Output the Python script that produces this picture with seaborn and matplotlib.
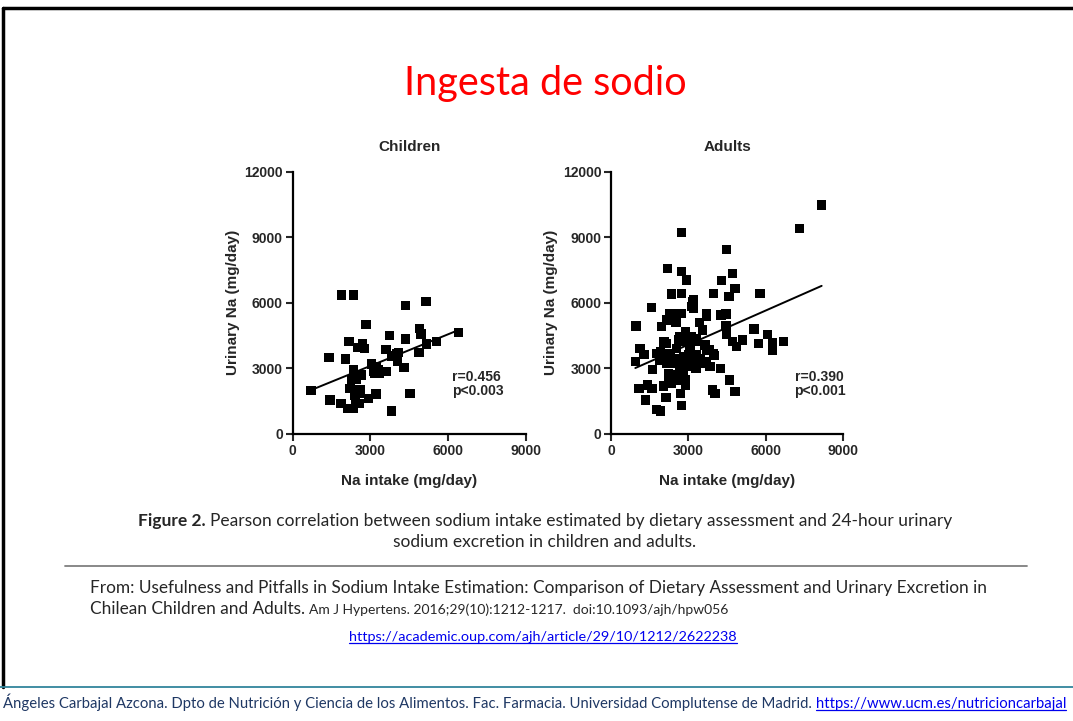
import numpy as np
import pandas as pd
import matplotlib
matplotlib.use("Agg")
import matplotlib.pyplot as plt
from matplotlib.lines import Line2D
import seaborn as sns

# data (mg/day)
children_intake = [710, 1440, 1400, 1864, 2044, 1890, 2340, 2173, 2108, 2340,
                   2211, 2340, 2276, 2469, 2404, 2597, 2571, 2443, 2520, 2700,
                   2777, 2829, 2636, 2919, 3047, 3111, 3214, 3240, 3330, 3626,
                   3600, 3729, 3819, 3819, 4011, 4076, 4036, 4294, 4358, 4358,
                   4526, 4886, 4950, 4873, 5169, 5143, 5554, 6403, 3290, 3174,
                   2596]
children_urinary = [1980, 1555, 3490, 1403, 3430, 6358, 6358, 4224, 1174, 1174,
                    2089, 2928, 2500, 2500, 1784, 1860, 1403, 1403, 3964, 4148,
                    3918, 5016, 2699, 1631, 3202, 2851, 1830, 3080, 2775, 2851,
                    3873, 4498, 3568, 1052, 3690, 3736, 3339, 3034, 5870, 4346,
                    1860, 4834, 4574, 3736, 4117, 6053, 4224, 4635, 2928, 2790,
                    2013]

adults_intake = [8161, 7296, 2737, 4481, 2195, 2737, 2931, 4700, 4287, 2350,
                 2737, 3964, 5772, 4803, 4571, 3164, 3125, 3189, 1575, 2311,
                 2737, 3706, 3706, 4261, 4455, 3422, 2518, 968, 1963, 2156,
                 4455, 5539, 3551, 2892, 2969, 3125, 3318, 4481, 6055, 5100,
                 4700, 5707, 6249, 6676, 6249, 4868, 2156, 2053, 1123, 1278,
                 3641, 3809, 3964, 3990, 942, 1614, 1756, 1911, 2117, 2311,
                 2479, 2640, 2737, 2866, 2995, 2931, 3034, 3164, 3318, 3293,
                 3512, 3680, 3809, 2221, 2350, 2260, 2479, 2802, 2866, 2892,
                 4248, 4597, 1085, 1407, 1588, 2027, 2698, 3938, 4029, 4803,
                 1343, 2131, 1756, 1911, 2737, 3254, 3086, 2634, 2673, 2867,
                 3061, 2545, 2286, 2801, 3320, 2480, 2933, 2158, 2673, 1898,
                 2027, 3127, 3189, 2673, 2286, 3448, 3708, 3576, 3836, 2352,
                 2222]
adults_urinary = [10475, 9408, 9210, 8447, 7578, 7425, 7044, 7349, 7013, 6404,
                  6434, 6434, 6434, 6663, 6282, 6053, 5824, 5748, 5779, 5519,
                  5519, 5519, 5367, 5443, 5489, 5093, 5093, 4940, 4910, 5214,
                  4940, 4803, 4757, 4681, 4452, 4452, 4376, 4559, 4559, 4300,
                  4224, 4147, 4178, 4224, 3842, 3995, 4147, 4224, 3918, 3644,
                  4071, 3842, 3690, 3583, 3309, 2958, 3690, 3766, 3461, 3690,
                  3263, 3461, 3385, 3538, 3614, 3080, 3232, 3385, 3538, 3004,
                  3232, 3309, 3080, 2775, 2699, 2318, 2470, 2699, 2470, 2242,
                  2989, 2470, 2089, 2242, 2089, 2196, 1860, 2013, 1860, 1936,
                  1555, 1677, 1128, 1052, 1296, 4254, 3995, 4300, 4451, 4222,
                  3993, 3920, 3692, 3536, 3614, 3234, 3234, 3234, 2928, 3385,
                  4149, 5823, 6130, 5521, 5521, 3462, 3843, 3234, 3079, 2319,
                  2621]

panel_titles = ["Children", "Adults"]
stats_text = ["r=0.456\np<0.003", "r=0.390\np<0.001"]
ticks_x = [0, 3000, 6000, 9000]
ticks_y = [0, 3000, 6000, 9000, 12000]

W, H = 1073, 721
sns.set_style("ticks")
plt.rcParams["font.family"] = ["Liberation Sans", "DejaVu Sans"]

fig = plt.figure(figsize=(W / 100, H / 100), dpi=100)
fig.patch.set_facecolor("white")


def fx(x):
    return x / W


def fy(y):
    return 1 - y / H


groups = [
    pd.DataFrame({"intake": children_intake, "urinary": children_urinary}),
    pd.DataFrame({"intake": adults_intake, "urinary": adults_urinary}),
]
lefts = [292.7, 611]
widths = [233.3, 232.3]
stat_x = [0.683, 0.79]

for df, left, w, title, st, sx in zip(groups, lefts, widths, panel_titles,
                                      stats_text, stat_x):
    ax = fig.add_axes([fx(left), fy(434), w / W, 262.3 / H])
    sns.scatterplot(data=df, x="intake", y="urinary", marker="s", s=44,
                    color="black", edgecolor="none", ax=ax)
    sns.regplot(data=df, x="intake", y="urinary", scatter=False, ci=None,
                truncate=True, color="black", line_kws={"lw": 1.4}, ax=ax)
    ax.set_xlim(0, 9000)
    ax.set_ylim(0, 12000)
    ax.set_xticks(ticks_x)
    ax.set_yticks(ticks_y)
    ax.tick_params(length=5, width=1.5, labelsize=10, pad=2)
    for lab in ax.get_xticklabels() + ax.get_yticklabels():
        lab.set_fontweight("bold")
    sns.despine(ax=ax)
    for s in ["left", "bottom"]:
        ax.spines[s].set_linewidth(1.6)
        ax.spines[s].set_color("black")
    ax.set_xlabel("Na intake (mg/day)", fontsize=11, fontweight="bold", labelpad=12)
    ax.set_ylabel("Urinary Na (mg/day)", fontsize=11, fontweight="bold", labelpad=3)
    ax.set_title(title, fontsize=11, fontweight="bold", pad=15)
    ax.text(sx, 0.19, st, transform=ax.transAxes, fontsize=10,
            fontweight="bold", va="center", ha="left", linespacing=1.0)
    ax.set_facecolor("none")

slide_font = ["Lato", "DejaVu Sans"]

fig.text(fx(545), fy(84), "Ingesta de sodio", color="#ff0000", fontsize=28.5,
         family=slide_font, ha="center", va="center")


def seg_line(segs, y, x=None, center=None, gap=0):
    texts = []
    for s, kw in segs:
        t = fig.text(0, fy(y), s, va="baseline", family=slide_font, **kw)
        texts.append(t)
    fig.canvas.draw()
    r = fig.canvas.get_renderer()
    ws = [t.get_window_extent(r).width for t in texts]
    total = sum(ws) + gap * (len(ws) - 1)
    start = center - total / 2 if center is not None else x
    for t, wd in zip(texts, ws):
        t.set_x(fx(start))
        start += wd + gap
    return texts


def underline(t, color, dy=2.5):
    fig.canvas.draw()
    bb = t.get_window_extent(fig.canvas.get_renderer())
    x0, x1 = bb.x0, bb.x1
    yb = t.get_position()[1] * H
    fig.add_artist(Line2D([x0 / W, x1 / W], [(yb - dy) / H, (yb - dy) / H],
                          color=color, lw=0.9, transform=fig.transFigure))


seg_line([("Figure 2.", {"fontsize": 12.5, "fontweight": "bold"}),
          ("Pearson correlation between sodium intake estimated by dietary assessment and 24-hour urinary",
           {"fontsize": 12.5})], 526, center=545, gap=4)
seg_line([("sodium excretion in children and adults.", {"fontsize": 12.5})], 547, center=545)

fig.add_artist(Line2D([fx(65), fx(1027)], [fy(566), fy(566)], color="#7f7f7f",
                      lw=1.3, transform=fig.transFigure))

seg_line([("From: Usefulness and Pitfalls in Sodium Intake Estimation: Comparison of Dietary Assessment and Urinary Excretion in",
           {"fontsize": 12.4})], 593, x=90)
seg_line([("Chilean Children and Adults.", {"fontsize": 12.4}),
          ("Am J Hypertens. 2016;29(10):1212-1217.  doi:10.1093/ajh/hpw056",
           {"fontsize": 10})], 614, x=90, gap=4)
link = seg_line([("https://academic.oup.com/ajh/article/29/10/1212/2622238",
                  {"fontsize": 10.4, "color": "#0000ee"})], 641, center=543)[0]
underline(link, "#0000ee", dy=2)

# slide frame
fig.add_artist(Line2D([fx(3), fx(1073)], [fy(8), fy(8)], color="black", lw=2.5,
                      transform=fig.transFigure))
fig.add_artist(Line2D([fx(3), fx(3)], [fy(8), fy(687)], color="black", lw=2.5,
                      transform=fig.transFigure))
fig.add_artist(Line2D([0, 1], [fy(687), fy(687)], color="#31859c", lw=1.3,
                      transform=fig.transFigure))

foot = seg_line([("Ángeles Carbajal Azcona. Dpto de Nutrición y Ciencia de los Alimentos. Fac. Farmacia. Universidad Complutense de Madrid.",
                  {"fontsize": 10.7, "color": "#1f3864"}),
                 ("https://www.ucm.es/nutricioncarbajal", {"fontsize": 10.7, "color": "#0000ee"})],
                708, x=3, gap=4)
underline(foot[1], "#0000ee", dy=2)

fig.savefig("out.png", dpi=100)
